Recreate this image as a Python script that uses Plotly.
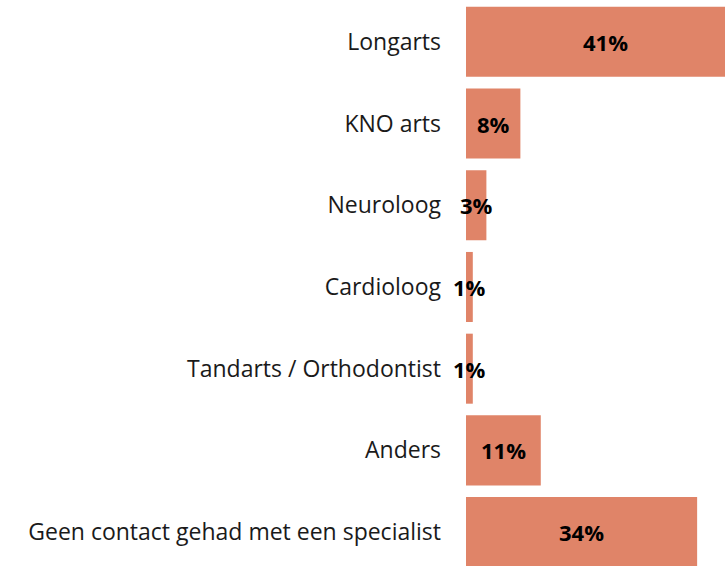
import plotly.graph_objects as go

categories = ["Longarts", "KNO arts", "Neuroloog", "Cardioloog",
              "Tandarts / Orthodontist", "Anders",
              "Geen contact gehad met een specialist"]
values = [41, 8, 3, 1, 1, 11, 34]
labels = ["41%", "8%", "3%", "1%", "1%", "11%", "34%"]

bar_color = "#E08468"
FONT = "Open Sans"

fig = go.Figure()
fig.add_trace(go.Bar(
    x=values, y=categories, orientation="h",
    marker=dict(color=bar_color, line=dict(width=0)),
    textposition="none", hoverinfo="skip",
))

for c, v, t in zip(categories, values, labels):
    fig.add_annotation(x=v / 2, y=c, text="<b>" + t + "</b>", showarrow=False,
                       xref="x", yref="y",
                       font=dict(family=FONT, size=22, color="black"))

fig.update_layout(
    width=725, height=566,
    margin=dict(l=466, r=0, t=1, b=0, autoexpand=False),
    paper_bgcolor="white", plot_bgcolor="white",
    bargap=0.143, showlegend=False,
    font=dict(family=FONT, size=23, color="#1a1a1a"),
)
fig.update_xaxes(range=[0, 38.1], visible=False, showgrid=False, zeroline=False)
fig.update_yaxes(range=[6.415, -0.5], showgrid=False, zeroline=False,
                 showline=False, ticks="", ticklabelstandoff=24,
                 automargin=False,
                 tickfont=dict(family=FONT, size=23, color="#1a1a1a"))

fig.write_html("out.html", config={"displayModeBar": False},
               post_script="document.body.style.margin='0';document.body.style.overflow='hidden';")
